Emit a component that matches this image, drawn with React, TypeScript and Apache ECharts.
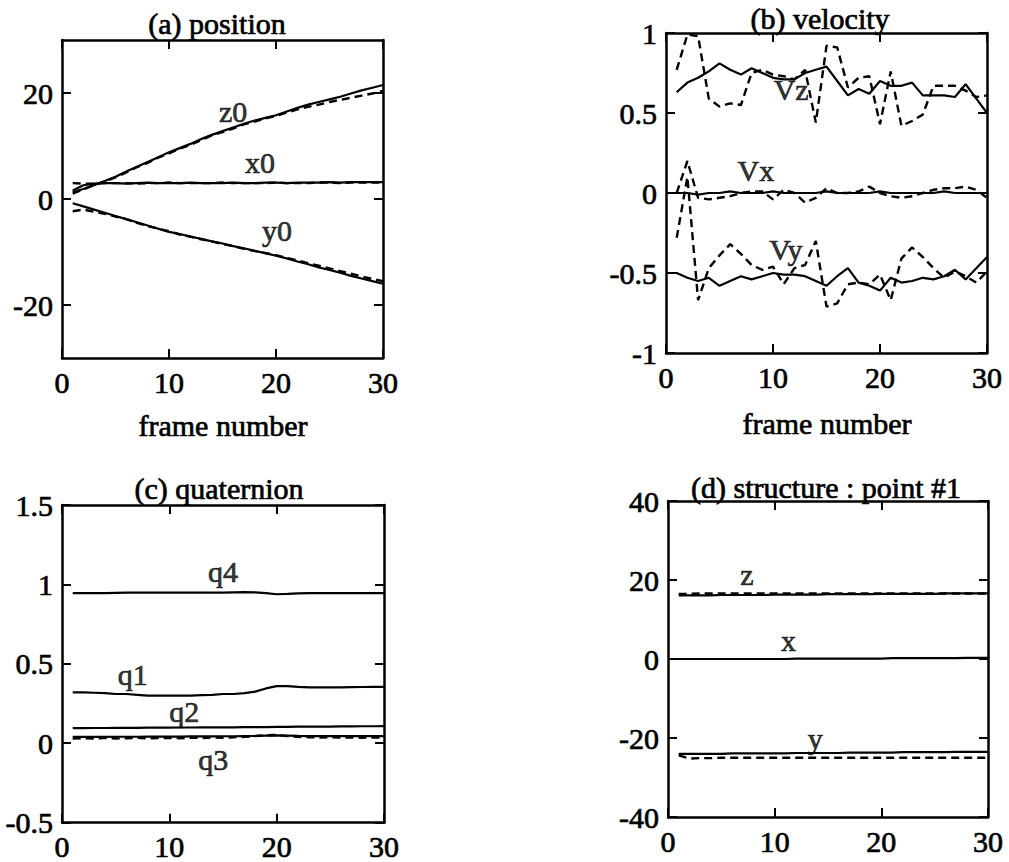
import React, { useEffect, useRef } from "react";
import * as echarts from "echarts";

// ---------- data ----------
const frames = [1, 2, 3, 4, 5, 6, 7, 8, 9, 10, 11, 12, 13, 14, 15, 16, 17, 18, 19, 20, 21, 22, 23, 24, 25, 26, 27, 28, 29, 30];
const frames0 = [0, 1, 2, 3, 4, 5, 6, 7, 8, 9, 10, 11, 12, 13, 14, 15, 16, 17, 18, 19, 20, 21, 22, 23, 24, 25, 26, 27, 28, 29, 30];
const xTicks = [0, 10, 20, 30];

// (a) position
const z0True = [1.3, 1.9, 2.6, 3.4, 4.2, 5.2, 6.1, 7.0, 7.9, 8.8, 9.6, 10.4, 11.3, 12.1, 12.8, 13.5, 14.2, 14.8, 15.3, 15.8, 16.5, 17.2, 17.8, 18.3, 18.8, 19.3, 19.9, 20.5, 21.0, 21.5];
const z0Est = [1.0, 1.8, 2.7, 3.3, 4.1, 5.0, 6.0, 6.8, 7.8, 8.6, 9.5, 10.2, 11.1, 12.0, 12.6, 13.3, 14.1, 14.6, 15.2, 15.7, 16.3, 16.9, 17.4, 17.8, 18.3, 18.7, 19.1, 19.5, 19.9, 20.4];
const x0True = [1.6, 2.6, 2.9, 3.0, 3.0, 2.9, 3.0, 3.1, 3.0, 3.0, 3.0, 3.1, 3.0, 3.0, 3.0, 3.1, 3.0, 3.0, 3.1, 3.1, 3.0, 3.1, 3.1, 3.1, 3.2, 3.1, 3.2, 3.2, 3.2, 3.2];
const x0Est = [3.0, 2.9, 2.9, 3.0, 3.0, 3.0, 2.9, 3.0, 3.0, 3.1, 3.0, 3.0, 3.0, 3.0, 3.1, 3.0, 3.0, 3.0, 3.0, 3.1, 3.0, 3.0, 3.0, 3.1, 3.1, 3.0, 3.1, 3.1, 3.1, 3.1];
const y0True = [-0.8, -1.4, -2.0, -2.6, -3.2, -3.8, -4.4, -5.0, -5.6, -6.2, -6.6, -7.1, -7.5, -8.0, -8.4, -8.9, -9.3, -9.8, -10.2, -10.7, -11.2, -11.8, -12.3, -12.9, -13.4, -13.9, -14.5, -15.0, -15.5, -16.0];
const y0Est = [-2.3, -2.0, -2.4, -2.8, -3.3, -3.8, -4.5, -5.1, -5.6, -6.1, -6.7, -7.1, -7.6, -8.0, -8.5, -8.9, -9.4, -9.8, -10.2, -10.6, -11.1, -11.6, -12.1, -12.6, -13.1, -13.6, -14.1, -14.6, -15.1, -15.5];

// (b) velocity
const vzTrue = [0.63, 0.69, 0.72, 0.76, 0.81, 0.77, 0.74, 0.78, 0.75, 0.72, 0.71, 0.71, 0.75, 0.77, 0.79, 0.70, 0.61, 0.65, 0.62, 0.70, 0.67, 0.67, 0.69, 0.61, 0.61, 0.61, 0.60, 0.68, 0.59, 0.50];
const vzEst = [0.77, 0.99, 0.98, 0.59, 0.54, 0.56, 0.55, 0.75, 0.77, 0.74, 0.73, 0.71, 0.77, 0.44, 0.92, 0.91, 0.66, 0.72, 0.73, 0.43, 0.76, 0.42, 0.45, 0.49, 0.67, 0.67, 0.67, 0.64, 0.60, 0.61];
const vxTrue = [0, 0, 0, -0.01, 0, 0, 0.01, 0, 0, 0, 0.01, 0, 0, 0, 0, 0.01, 0, 0, 0, 0, 0.01, 0, 0, 0, 0, 0, 0.01, 0, 0, 0, 0];
const vxEst = [0.0, 0.2, -0.03, -0.04, -0.03, -0.02, 0.0, 0.01, 0.01, -0.04, 0.02, 0.0, -0.06, -0.03, 0.03, 0.0, 0.0, 0.01, 0.04, 0.0, -0.02, -0.03, -0.02, 0.0, 0.02, 0.03, 0.03, 0.04, 0.02, -0.03];
const vyTrue = [-0.5, -0.5, -0.53, -0.55, -0.53, -0.58, -0.55, -0.52, -0.54, -0.52, -0.5, -0.51, -0.51, -0.52, -0.55, -0.58, -0.52, -0.47, -0.56, -0.58, -0.61, -0.53, -0.56, -0.55, -0.53, -0.54, -0.52, -0.48, -0.54, -0.47, -0.4];
const vyEst = [-0.28, 0.10, -0.67, -0.47, -0.39, -0.32, -0.38, -0.45, -0.48, -0.46, -0.57, -0.47, -0.45, -0.30, -0.71, -0.69, -0.57, -0.56, -0.57, -0.51, -0.67, -0.41, -0.34, -0.40, -0.47, -0.53, -0.49, -0.52, -0.56, -0.49];

// (c) quaternion
const q4True = [0.945, 0.945, 0.945, 0.945, 0.947, 0.948, 0.948, 0.948, 0.948, 0.948, 0.948, 0.948, 0.948, 0.948, 0.948, 0.95, 0.952, 0.95, 0.945, 0.938, 0.94, 0.943, 0.945, 0.945, 0.945, 0.945, 0.945, 0.945, 0.945, 0.945];
const q1True = [0.32, 0.32, 0.318, 0.315, 0.31, 0.31, 0.305, 0.3, 0.3, 0.3, 0.3, 0.3, 0.303, 0.305, 0.31, 0.31, 0.315, 0.325, 0.345, 0.36, 0.36, 0.355, 0.352, 0.352, 0.352, 0.352, 0.353, 0.354, 0.355, 0.355];
const q2True = [0.095, 0.095, 0.096, 0.096, 0.097, 0.097, 0.097, 0.098, 0.098, 0.098, 0.099, 0.099, 0.1, 0.1, 0.1, 0.1, 0.101, 0.101, 0.102, 0.103, 0.103, 0.104, 0.104, 0.105, 0.105, 0.106, 0.106, 0.107, 0.107, 0.108];
const q3True = [0.04, 0.04, 0.04, 0.04, 0.041, 0.041, 0.041, 0.042, 0.042, 0.042, 0.042, 0.043, 0.043, 0.043, 0.044, 0.044, 0.045, 0.046, 0.048, 0.05, 0.048, 0.046, 0.045, 0.045, 0.045, 0.045, 0.045, 0.045, 0.045, 0.045];
const q3Est = [0.03, 0.032, 0.03, 0.033, 0.03, 0.031, 0.034, 0.03, 0.032, 0.034, 0.031, 0.035, 0.033, 0.036, 0.034, 0.038, 0.04, 0.045, 0.05, 0.052, 0.045, 0.04, 0.038, 0.036, 0.037, 0.035, 0.036, 0.035, 0.036, 0.035];

// (d) structure : point #1
const zTrue = [16.1, 16.1, 16.1, 16.1, 16.2, 16.2, 16.2, 16.2, 16.2, 16.3, 16.3, 16.3, 16.3, 16.3, 16.4, 16.4, 16.4, 16.4, 16.4, 16.5, 16.5, 16.5, 16.5, 16.5, 16.5, 16.6, 16.6, 16.6, 16.6, 16.6];
const zEst = [16.5, 16.5, 16.6, 16.6, 16.6, 16.6, 16.6, 16.6, 16.6, 16.6, 16.6, 16.6, 16.6, 16.6, 16.6, 16.6, 16.6, 16.6, 16.6, 16.6, 16.6, 16.6, 16.6, 16.6, 16.6, 16.6, 16.6, 16.6, 16.6, 16.6];
const xTrue = [0, 0, 0, 0, 0, 0, 0, 0, 0, 0, 0, 0, 0.1, 0.1, 0.1, 0.1, 0.1, 0.1, 0.1, 0.1, 0.1, 0.2, 0.2, 0.2, 0.2, 0.2, 0.2, 0.2, 0.3, 0.3, 0.3];
const yTrue = [-24.0, -24.0, -24.0, -24.0, -24.0, -23.9, -23.9, -23.9, -23.9, -23.9, -23.9, -23.8, -23.8, -23.8, -23.8, -23.8, -23.7, -23.7, -23.7, -23.7, -23.7, -23.6, -23.6, -23.6, -23.6, -23.6, -23.5, -23.5, -23.5, -23.5];
const yEst = [-24.4, -25.2, -25.1, -25.1, -25.0, -25.0, -25.0, -25.0, -25.0, -25.0, -25.0, -25.0, -25.0, -25.0, -25.0, -25.0, -25.0, -25.0, -25.0, -25.0, -25.0, -25.0, -25.0, -25.0, -25.0, -25.0, -25.0, -25.0, -25.0, -25.0];

// annotation texts [frame, value, text]
const notesA: [number, number, string][] = [[16.0, 16.5, "z0"], [18.5, 6.9, "x0"], [20.1, -6.0, "y0"]];
const notesB: [number, number, string][] = [[11.7, 0.65, "Vz"], [8.4, 0.14, "Vx"], [11.2, -0.35, "Vy"]];
const notesC: [number, number, string][] = [[15.0, 1.08, "q4"], [6.6, 0.43, "q1"], [11.4, 0.2, "q2"], [14.1, -0.1, "q3"]];
const notesD: [number, number, string][] = [[7.4, 21.3, "z"], [11.3, 4.6, "x"], [13.8, -20.0, "y"]];

const titles = ["(a) position", "(b) velocity", "(c) quaternion", "(d) structure : point #1"];
const xName = "frame number";

// ---------- styling ----------
const FONT = "'Liberation Serif', 'Times New Roman', serif";
const FS = 30;
const INK = "#000";
const THICK = { textBorderColor: "#000", textBorderWidth: 0.7 };

const grids = [
  { left: 62, top: 40, width: 321, height: 318 },
  { left: 666, top: 33, width: 321, height: 320 },
  { left: 62, top: 505, width: 322, height: 318 },
  { left: 668, top: 501, width: 320, height: 316 },
];

const yRanges = [
  { min: -30, max: 30, interval: 10, show: [-20, 0, 20] },
  { min: -1, max: 1, interval: 0.5, show: [-1, -0.5, 0, 0.5, 1] },
  { min: -0.5, max: 1.5, interval: 0.5, show: [-0.5, 0, 0.5, 1, 1.5] },
  { min: -40, max: 40, interval: 20, show: [-40, -20, 0, 20, 40] },
];

function pairs(xs: number[], ys: number[]) {
  return ys.map((v, i) => [xs[i], v]);
}

function buildOption() {
  const xAxis: any[] = [];
  const yAxis: any[] = [];
  const axisLine = { show: true, onZero: false, lineStyle: { color: INK, width: 2.5 } };
  const tickStyle = { color: INK, width: 2 };
  const labelStyle = { fontFamily: FONT, fontSize: FS, color: INK, ...THICK };
  grids.forEach((_, gi) => {
    const base = { type: "value", gridIndex: gi, min: 0, max: 30, interval: 10, splitLine: { show: false }, axisLine };
    xAxis.push({
      ...base,
      position: "bottom",
      axisTick: { show: true, inside: true, length: 9, lineStyle: tickStyle, customValues: xTicks },
      axisLabel: { show: true, margin: 9, ...labelStyle, customValues: xTicks },
    });
    xAxis.push({
      ...base,
      position: "top",
      axisTick: { show: true, inside: true, length: 9, lineStyle: tickStyle, customValues: xTicks },
      axisLabel: { show: false },
    });
    const r = yRanges[gi];
    const ybase = { type: "value", gridIndex: gi, min: r.min, max: r.max, interval: r.interval, splitLine: { show: false }, axisLine };
    yAxis.push({
      ...ybase,
      position: "left",
      axisTick: { show: true, inside: true, length: 9, lineStyle: tickStyle, customValues: r.show },
      axisLabel: { show: true, margin: 9, ...labelStyle, customValues: r.show },
    });
    yAxis.push({
      ...ybase,
      position: "right",
      axisTick: { show: true, inside: true, length: 9, lineStyle: tickStyle, customValues: r.show },
      axisLabel: { show: false },
    });
  });

  const line = (gi: number, data: number[][], dashed: boolean) => ({
    type: "line",
    xAxisIndex: gi * 2,
    yAxisIndex: gi * 2,
    data,
    symbol: "none",
    showSymbol: false,
    silent: true,
    clip: true,
    lineStyle: { color: INK, width: dashed ? 2.4 : 2.2, type: dashed ? [8, 5] : "solid" },
  });
  const notes = (gi: number, arr: [number, number, string][]) => ({
    type: "scatter",
    xAxisIndex: gi * 2,
    yAxisIndex: gi * 2,
    data: arr.map((n) => [n[0], n[1], n[2]]),
    symbolSize: 1,
    silent: true,
    z: 5,
    itemStyle: { color: "rgba(0,0,0,0)" },
    label: {
      show: true,
      position: "inside",
      formatter: (p: any) => p.value[2],
      ...labelStyle,
      align: "center",
      verticalAlign: "middle",
    },
  });

  const series: any[] = [
    line(0, pairs(frames, z0True), false),
    line(0, pairs(frames, z0Est), true),
    line(0, pairs(frames, x0True), false),
    line(0, pairs(frames, x0Est), true),
    line(0, pairs(frames, y0True), false),
    line(0, pairs(frames, y0Est), true),
    notes(0, notesA),
    line(1, pairs(frames, vzTrue), false),
    line(1, pairs(frames, vzEst), true),
    line(1, pairs(frames0, vxTrue), false),
    line(1, pairs(frames, vxEst), true),
    line(1, pairs(frames0, vyTrue), false),
    line(1, pairs(frames, vyEst), true),
    notes(1, notesB),
    line(2, pairs(frames, q4True), false),
    line(2, pairs(frames, q1True), false),
    line(2, pairs(frames, q2True), false),
    line(2, pairs(frames, q3True), false),
    line(2, pairs(frames, q3Est), true),
    notes(2, notesC),
    line(3, pairs(frames, zTrue), false),
    line(3, pairs(frames, zEst), true),
    line(3, pairs(frames0, xTrue), false),
    line(3, pairs(frames, yTrue), false),
    line(3, pairs(frames, yEst), true),
    notes(3, notesD),
  ];

  const txt = (text: string, x: number, y: number) => ({
    type: "text",
    x,
    y,
    silent: true,
    style: {
      text,
      fontFamily: FONT,
      fontSize: FS,
      fill: INK,
      stroke: INK,
      lineWidth: 0.7,
      align: "center",
      verticalAlign: "middle",
    },
  });

  return {
    animation: false,
    grid: grids.map((g) => ({ ...g, containLabel: false })),
    xAxis,
    yAxis,
    series,
    graphic: [
      txt(titles[0], 217, 23),
      txt(titles[1], 820, 18),
      txt(titles[2], 219, 488),
      txt(titles[3], 826, 487),
      txt(xName, 223, 425),
      txt(xName, 827, 423),
    ],
  };
}

export default function App() {
  const ref = useRef<HTMLDivElement>(null);
  useEffect(() => {
    if (!ref.current) return;
    const chart = echarts.init(ref.current, undefined, { renderer: "svg" });
    chart.setOption(buildOption() as any);
    return () => chart.dispose();
  }, []);
  return (
    <div
      ref={ref}
      style={{ position: "absolute", left: 0, top: 0, width: 1009, height: 862, background: "#fff" }}
    />
  );
}
